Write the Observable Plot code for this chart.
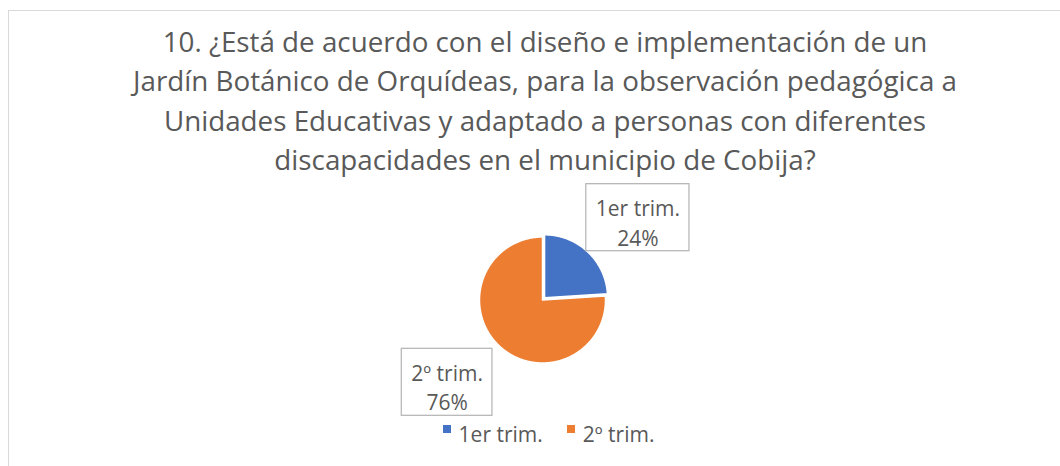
<!DOCTYPE html>
<html>
<head>
<meta charset="utf-8">
<script src="https://cdn.jsdelivr.net/npm/d3@7"></script>
<script src="https://cdn.jsdelivr.net/npm/@observablehq/plot@0.6"></script>
<style>
  html, body { margin: 0; padding: 0; background: #fff; }
  #wrap { position: relative; width: 1060px; height: 466px; overflow: hidden;
          font-family: "Open Sans", sans-serif; color: #595959; }
  #frame { position: absolute; left: 8px; top: 10px; width: 1074px; height: 600px;
           border: 1.5px solid #d9d9d9; box-sizing: border-box; }
  .tline { position: absolute; left: 8px; width: 1074px; text-align: center; white-space: pre;
           transform-origin: 50% 50%; }
  #pie { position: absolute; left: 0; top: 175px; }
  #legend { position: absolute; left: 0; width: 1097px; top: 422px; display: flex;
            justify-content: center; align-items: flex-start; font-size: 21px; line-height: 24px; }
  .sw { width: 8px; height: 8px; margin-top: 3px; margin-right: 8px; }
  .item { display: flex; align-items: flex-start; }
  .item + .item { margin-left: 24px; }
</style>
</head>
<body>
<div id="wrap">
  <div id="frame"></div>
  <div id="pie"></div>
  <div id="legend"></div>
</div>
<script>
const titleLines = [
  "10. ¿Está de acuerdo con el diseño e implementación de un",
  "Jardín Botánico de Orquídeas, para la observación pedagógica a",
  "Unidades Educativas y adaptado a personas con diferentes",
  "discapacidades en el municipio de Cobija?"
];
const categories = ["1er trim.", "2º trim."];
const values = [24, 76];
const colors = ["#4472C4", "#ED7D31"];

const wrap = document.getElementById("wrap");
const ctx = document.createElement("canvas").getContext("2d");
function measure(text, size) { ctx.font = `${size}px "Open Sans"`; return ctx.measureText(text).width; }

// Title
const titleSize = 26.5;
const titleScale = 824 / measure(titleLines[1], titleSize);
titleLines.forEach((t, i) => {
  const d = document.createElement("div");
  d.className = "tline";
  d.textContent = t;
  d.style.fontSize = titleSize + "px";
  d.style.lineHeight = (titleSize * 1.362) + "px";
  d.style.top = (52.7 + i * 39.1 - 1.069 * titleSize) + "px";
  d.style.transform = `scaleX(${titleScale})`;
  wrap.appendChild(d);
});

// Pie geometry
const cx = 542, cy = 124.5, r = 63;
const total = d3.sum(values);
const arcs = d3.pie().sort(null)(values);
const explode = 3 / r;
const slicePts = arcs.flatMap((a, i) => {
  const mid = (a.startAngle + a.endAngle) / 2;
  const off = i === 0 ? explode : 0;
  const ox = off * Math.sin(mid), oy = off * Math.cos(mid);
  const pts = [{cat: categories[i], x: ox, y: oy}];
  const n = Math.max(2, Math.ceil((a.endAngle - a.startAngle) / 0.01));
  for (let k = 0; k <= n; k++) {
    const ang = a.startAngle + (a.endAngle - a.startAngle) * k / n;
    pts.push({cat: categories[i], x: ox + Math.sin(ang), y: oy + Math.cos(ang)});
  }
  return pts;
});

const labelSize = 21;
const labels = arcs.map((a, i) => {
  const mid = (a.startAngle + a.endAngle) / 2 + 6 * Math.PI / 180;
  const x = 2 * Math.sin(mid), y = 2 * Math.cos(mid);
  const w = (measure(categories[i], labelSize) + 19) / r;
  const h = 67 / r;
  return {cat: categories[i], pct: Math.round(values[i] / total * 100) + "%",
          x, y, x1: x - w / 2, x2: x + w / 2, y1: y - h / 2, y2: y + h / 2};
});

const chart = Plot.plot({
  width: 1060,
  height: 250,
  margin: 0,
  style: {fontFamily: "Open Sans", fontSize: labelSize + "px", background: "transparent", overflow: "visible"},
  x: {domain: [-1, 1], range: [cx - r, cx + r], axis: null},
  y: {domain: [-1, 1], range: [cy + r, cy - r], axis: null},
  color: {domain: categories, range: colors},
  marks: [
    Plot.line(slicePts, {x: "x", y: "y", z: "cat", fill: "cat", stroke: "white", strokeWidth: 1.5, curve: "linear-closed"}),
    Plot.rect(labels, {x1: "x1", x2: "x2", y1: "y1", y2: "y2", fill: "white", stroke: "#b8b8b8", strokeWidth: 1.3}),
    Plot.text(labels, {x: "x", y: "y", text: "cat", fill: "#595959", fontSize: labelSize, dy: -1.5 - 0.32 * labelSize}),
    Plot.text(labels, {x: "x", y: "y", text: "pct", fill: "#595959", fontSize: labelSize, dy: 28 - 0.32 * labelSize})
  ]
});
document.getElementById("pie").appendChild(chart);

// Legend
const legend = document.getElementById("legend");
categories.forEach((c, i) => {
  const item = document.createElement("div");
  item.className = "item";
  const sw = document.createElement("div");
  sw.className = "sw";
  sw.style.background = colors[i];
  const tx = document.createElement("span");
  tx.textContent = c;
  item.appendChild(sw); item.appendChild(tx);
  legend.appendChild(item);
});
</script>
</body>
</html>
